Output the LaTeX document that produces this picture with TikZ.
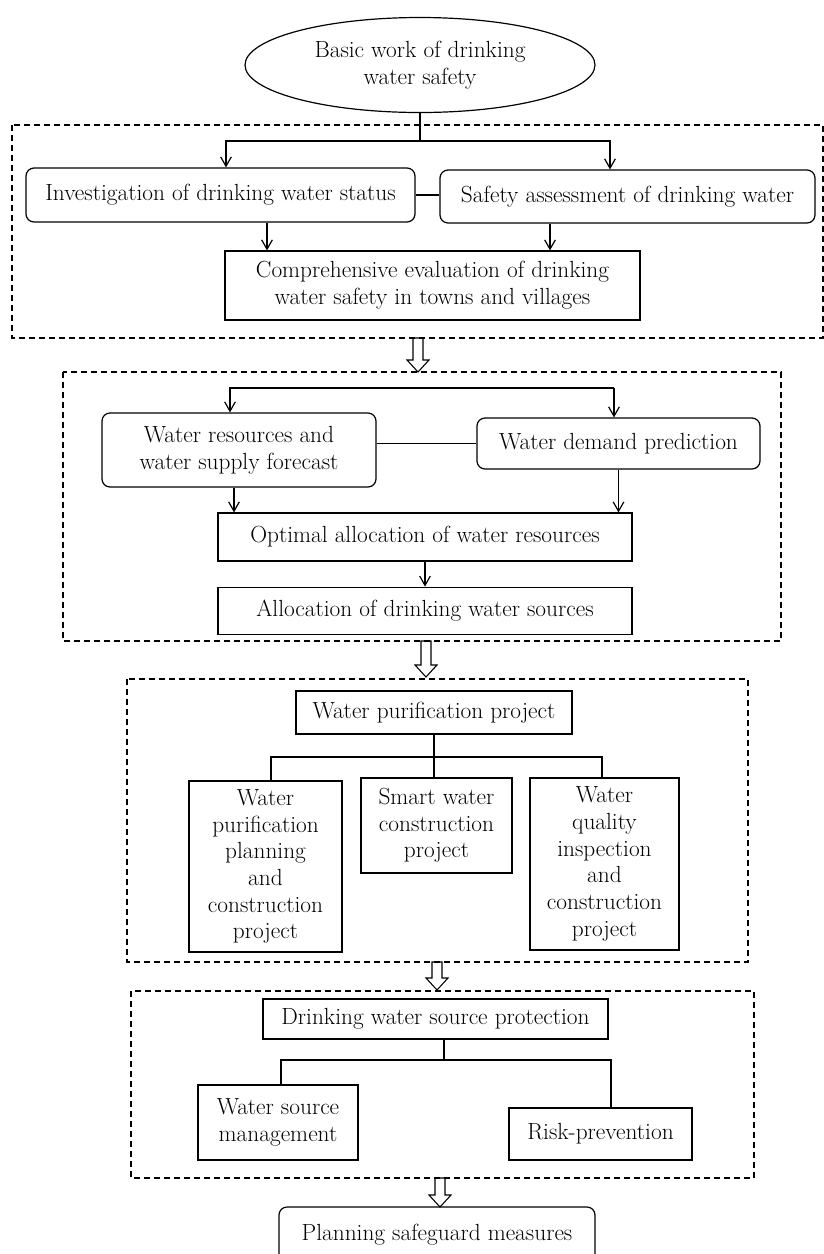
\documentclass[tikz,border=0pt]{standalone}
\usepackage{tikz}
\usetikzlibrary{arrows.meta,positioning,shapes.geometric}
\newcommand{\boxfont}{\fontsize{17.5}{20}\selectfont}

\begin{document}
\begin{tikzpicture}[x=0.75pt,y=-0.75pt,
  box/.style={draw,line width=0.9pt,inner sep=2pt,align=center,font=\boxfont},
  rbox/.style={box,rounded corners=6pt},
  frame/.style={line width=0.8pt,dash pattern=on 4.5pt off 3pt},
  arr/.style={line width=0.9pt,-{Straight Barb[length=7pt,width=8pt]}},
  link/.style={line width=0.9pt}]
\useasboundingbox (0,0) rectangle (824,1254);

% dashed frames
\draw[frame] (12,125) rectangle (823,338);
\draw[frame] (63,372) rectangle (781,641);
\draw[frame] (127,679) rectangle (748,962);
\draw[frame] (131,991) rectangle (754,1178);

% hollow arrows between the frames
\foreach \x/\ya/\yb in {418/338/372,426/641/677,437/962/990,440/1178/1207}
  \draw[line width=0.8pt] (\x-5,\ya) -- (\x+5,\ya) -- (\x+5,\yb-12) -- (\x+11,\yb-12)
    -- (\x,\yb) -- (\x-11,\yb-12) -- (\x-5,\yb-12) -- cycle;

% basic work
\node[box,ellipse,minimum width=262.5pt,minimum height=71.25pt] (basic) at (420,65) {Basic work of drinking\\water safety};
\node[rbox,minimum width=291.75pt,minimum height=40.5pt] (invest) at (220.5,195) {Investigation of drinking water status};
\node[rbox,minimum width=281.25pt,minimum height=39.75pt] (safety) at (627.5,196.5) {Safety assessment of drinking water};
\node[box,minimum width=311.25pt,minimum height=51.75pt] (comp) at (432.5,285.5) {Comprehensive evaluation of drinking\\water safety in towns and villages};

\coordinate (j1) at (420,141);
\coordinate (j1l) at (226,141);
\coordinate (j1r) at (610,141);
\coordinate (x1) at (267,0);
\coordinate (x2) at (550,0);

\draw[link] (basic.south) -- (j1);
\draw[arr] (j1) -- (j1l) -- (j1l |- invest.north);
\draw[arr] (j1) -- (j1r) -- (j1r |- safety.north);
\draw[link] (invest.east) -- (invest.east -| safety.west);
\draw[arr] (invest.south -| x1) -- (comp.north -| x1);
\draw[arr] (safety.south -| x2) -- (comp.north -| x2);

% water resources
\node[rbox,minimum width=205.5pt,minimum height=55.5pt] (wrsup) at (239,450) {Water resources and\\water supply forecast};
\node[rbox,minimum width=212.25pt,minimum height=38.25pt] (demand) at (618.5,443.5) {Water demand prediction};
\node[box,minimum width=310.5pt,minimum height=36pt] (optimal) at (425,537) {Optimal allocation of water resources};
\node[box,minimum width=310.5pt,minimum height=35.25pt,below=18.75pt of optimal] (alloc) {Allocation of drinking water sources};

\coordinate (j2l) at (230,388);
\coordinate (j2r) at (614,388);
\coordinate (x3) at (234,0);

\draw[arr] (j2r) -- (j2l) -- (j2l |- wrsup.north);
\draw[arr] (j2r) -- (j2r |- demand.north);
\draw[link] (demand.west) -- (demand.west -| wrsup.east);
\draw[arr] (wrsup.south -| x3) -- (optimal.north -| x3);
\draw[arr] (demand.south) -- (demand.south |- optimal.north);
\draw[arr] (optimal) -- (alloc);

% purification
\node[box,minimum width=207pt,minimum height=32.25pt] (purif) at (434,712.5) {Water purification project};
\node[box,minimum width=114.75pt,minimum height=128.25pt] (wpp) at (265.5,866.5) {Water\\purification\\planning\\and\\construction\\project};
\node[box,minimum width=113.25pt,minimum height=71.25pt] (smart) at (436.5,825.5) {Smart water\\construction\\project};
\node[box,minimum width=111.75pt,minimum height=129pt] (quality) at (604.5,864) {Water\\quality\\inspection\\and\\construction\\project};

\coordinate (j3l) at (271,757);
\coordinate (j3r) at (602,757);

\draw[link] (purif.south) -- (purif.south |- smart.north);
\draw[link] (j3l |- wpp.north) -- (j3l) -- (j3r) -- (j3r |- quality.north);

% source protection
\node[box,minimum width=258.75pt,minimum height=30pt] (protect) at (435.5,1019) {Drinking water source protection};
\node[box,minimum width=120pt,minimum height=56.25pt] (wsm) at (278,1122.5) {Water source\\management};
\node[box,minimum width=137.25pt,minimum height=39pt] (risk) at (600.5,1134) {Risk-prevention};

\coordinate (j4) at (444,1060);
\coordinate (j4l) at (281,1060);
\coordinate (j4r) at (611,1060);

\draw[link] (protect.south -| j4) -- (j4);
\draw[link] (j4l |- wsm.north) -- (j4l) -- (j4r) -- (j4r |- risk.north);

\node[rbox,minimum width=237pt,minimum height=41.25pt] (plan) at (437,1234.5) {Planning safeguard measures};
\end{tikzpicture}
\end{document}
